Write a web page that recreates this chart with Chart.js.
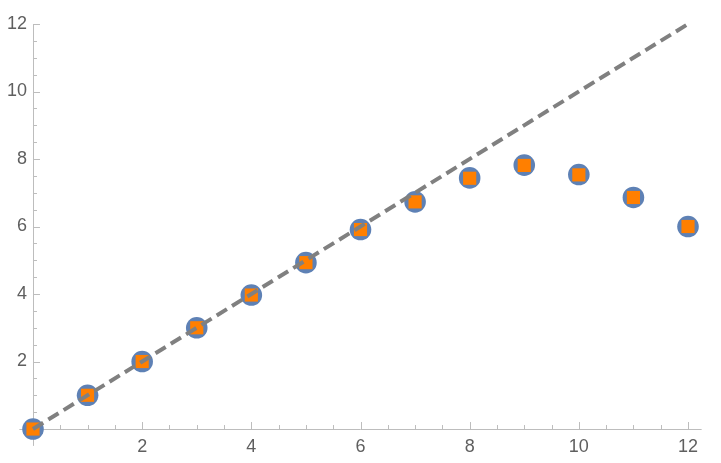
<!DOCTYPE html>
<html>
<head>
<meta charset="utf-8">
<script src="https://cdn.jsdelivr.net/npm/chart.js@4"></script>
<style>
  html, body { margin: 0; padding: 0; background: #fff; }
  canvas { display: block; }
</style>
</head>
<body>
<canvas id="myChart" width="721" height="463"></canvas>
<script>
// data
let xs = [0, 1, 2, 3, 4, 5, 6, 7, 8, 9, 10, 11, 12];
let circleY = [0, 1, 2, 3, 3.97, 4.93, 5.91, 6.73, 7.44, 7.82, 7.54, 6.86, 6.0];
let squareY = [0, 1, 2, 3, 3.97, 4.93, 5.91, 6.73, 7.43, 7.81, 7.53, 6.86, 6.0];
let lineX = [0, 12];
let lineY = [0, 12];
let xTicks = [2, 4, 6, 8, 10, 12];
let yTicks = [2, 4, 6, 8, 10, 12];

const toPoints = (xv, yv) => xv.map((x, i) => ({ x: x, y: yv[i] }));

// axes through the origin, ticks pointing inward (mathematica style)
const originAxes = {
    id: 'originAxes',
    beforeDatasetsDraw(chart) {
        const ctx = chart.ctx;
        const sx = chart.scales.x, sy = chart.scales.y;
        const x0 = sx.getPixelForValue(0), y0 = sy.getPixelForValue(0);
        ctx.save();
        ctx.strokeStyle = '#bdbdbd';
        ctx.lineWidth = 1;
        ctx.beginPath();
        ctx.moveTo(sx.left, Math.round(y0) + 0.5);
        ctx.lineTo(sx.right, Math.round(y0) + 0.5);
        ctx.moveTo(Math.round(x0) + 0.5, sy.top);
        ctx.lineTo(Math.round(x0) + 0.5, sy.bottom);
        for (let v = 0.5; v <= 12; v += 0.5) {
            const len = (v % 2 === 0) ? 7 : 4;
            const px = Math.round(sx.getPixelForValue(v)) + 0.5;
            ctx.moveTo(px, y0);
            ctx.lineTo(px, y0 - len);
            const py = Math.round(sy.getPixelForValue(v)) + 0.5;
            ctx.moveTo(x0, py);
            ctx.lineTo(x0 + len, py);
        }
        ctx.stroke();

        ctx.fillStyle = '#5f5f5f';
        ctx.font = '18px "Liberation Sans", Arial, sans-serif';
        ctx.textAlign = 'center';
        ctx.textBaseline = 'middle';
        xTicks.forEach(v => ctx.fillText(String(v), sx.getPixelForValue(v), y0 + 18));
        ctx.textAlign = 'right';
        yTicks.forEach(v => ctx.fillText(String(v), x0 - 6, sy.getPixelForValue(v)));
        ctx.restore();
    }
};

const data = {
    datasets: [
        {
            type: 'line',
            label: 'y = x',
            data: toPoints(lineX, lineY),
            borderColor: '#808080',
            borderWidth: 4,
            borderDash: [12, 6],
            pointRadius: 0,
            fill: false,
            order: 0,
            clip: false
        },
        {
            label: 'squares',
            data: toPoints(xs, squareY),
            pointStyle: 'rect',
            pointRadius: 9.3,
            backgroundColor: '#ff7f00',
            borderWidth: 0,
            order: 1,
            clip: false
        },
        {
            label: 'circles',
            data: toPoints(xs, circleY),
            pointStyle: 'circle',
            pointRadius: 10.8,
            backgroundColor: '#5e81b5',
            borderWidth: 0,
            order: 2,
            clip: false
        }
    ]
};

const config = {
    type: 'scatter',
    data: data,
    options: {
        responsive: false,
        animation: false,
        devicePixelRatio: 1,
        layout: {
            padding: { left: 19.35, right: 19.35, top: 24, bottom: 17.1 }
        },
        plugins: {
            legend: { display: false },
            tooltip: { enabled: false }
        },
        scales: {
            x: { type: 'linear', min: -0.25, max: 12.25, display: false },
            y: { type: 'linear', min: -0.5, max: 12, display: false }
        }
    },
    plugins: [originAxes]
};

var myChart = new Chart(document.getElementById('myChart'), config);
</script>
</body>
</html>
